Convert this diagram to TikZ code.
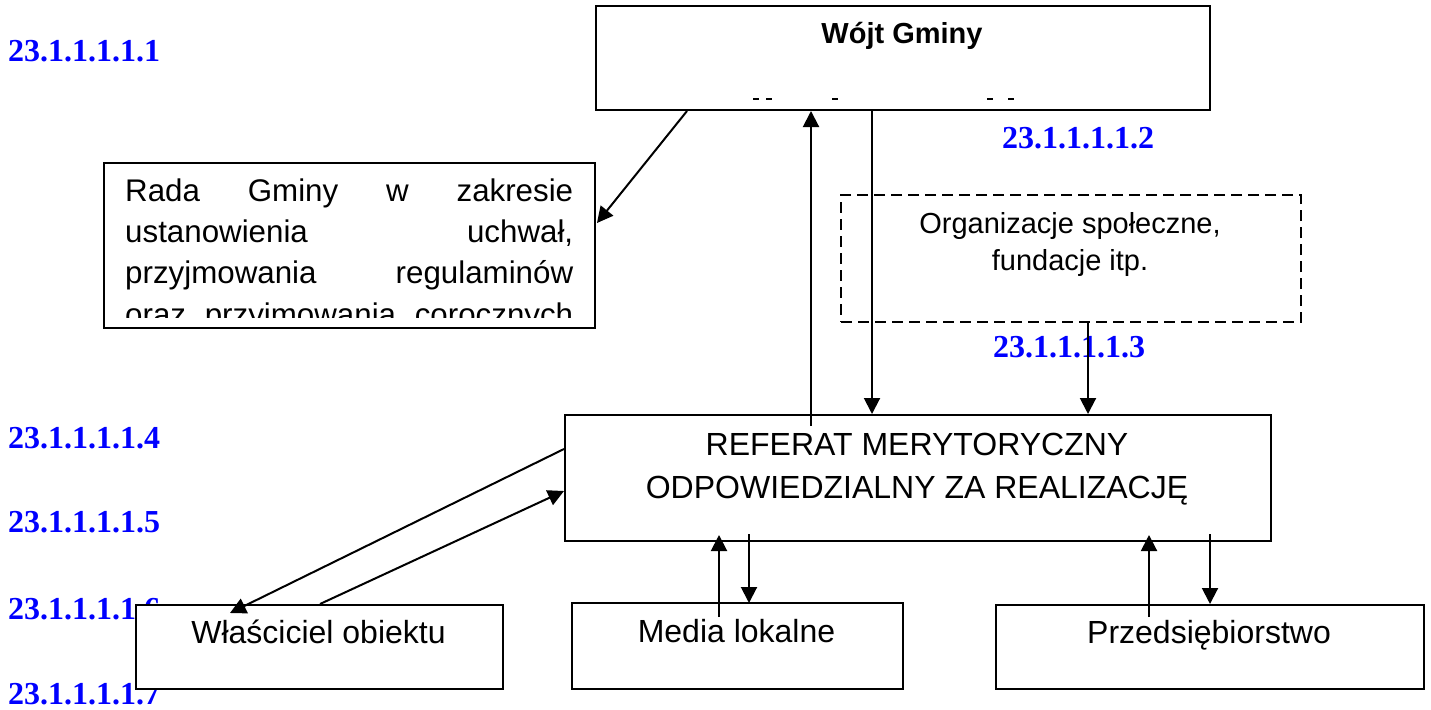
\documentclass[tikz,border=0pt]{standalone}
\usepackage{fontspec}
\setmainfont{Liberation Sans}
\newfontfamily\lserif{Liberation Serif}
\usetikzlibrary{arrows.meta,calc}
\definecolor{lblue}{RGB}{0,0,255}
\begin{document}
\begin{tikzpicture}[x=1pt,y=-1pt,
  box/.style={draw,line width=2pt,fill=white,inner sep=0pt,anchor=north west},
  dbox/.style={box,line width=2.3pt,dash pattern=on 11pt off 6pt},
  num/.style={font=\lserif\bfseries\fontsize{32}{32}\selectfont,text=lblue,anchor=base west,inner sep=0pt},
  txt/.style={font=\fontsize{32}{32}\selectfont,anchor=base,inner sep=0pt},
  stxt/.style={font=\fontsize{29}{29}\selectfont,anchor=base,inner sep=0pt},
  rtxt/.style={font=\fontsize{31.3}{31.3}\selectfont,anchor=base west,inner sep=0pt},
  arr/.style={line width=2pt,-{Triangle[length=16pt,width=16pt]}},
  tickmk/.style={line width=1.6pt}]
\useasboundingbox (0,0) rectangle (1431,709);

% blue numbering labels
\node[num] (n1) at (8,62) {23.1.1.1.1.1};
\node[num] (n2) at (1002,148) {23.1.1.1.1.2};
\node[num] (n3) at (993,357) {23.1.1.1.1.3};
\node[num] (n4) at (8,448) {23.1.1.1.1.4};
\node[num] (n5) at (8,532) {23.1.1.1.1.5};
\node[num] (n6) at (8,619) {23.1.1.1.1.6};
\node[num] (n7) at (8,704) {23.1.1.1.1.7};

% boxes
\node[box,minimum width=614pt,minimum height=104pt] (wojt) at (595,5) {};
\node[box,minimum width=491pt,minimum height=165pt] (rada) at (103,162) {};
\node[dbox,minimum width=460pt,minimum height=127pt] (org) at (840,194) {};
\node[box,minimum width=706pt,minimum height=126pt] (referat) at (564,414) {};
\node[box,minimum width=367pt,minimum height=84pt] (wlasc) at (135,604) {};
\node[box,minimum width=331pt,minimum height=86pt] (media) at (571,602) {};
\node[box,minimum width=428pt,minimum height=84pt] (przed) at (995,604) {};

% texts
\node[stxt,font=\bfseries\fontsize{29}{29}\selectfont] (wojtT) at (902,44) {Wójt Gminy};
\draw[tickmk] (753,99) -- (759,99) (766,99) -- (772,99) (832,99) -- (838,99)
            (987,99) -- (993,99) (1008,99) -- (1014,99);

\begin{scope}
\clip (103,162) rectangle (594,317);
\node[rtxt] (radaA) at (125,201) {\makebox[448pt][l]{Rada\hfill Gminy\hfill w\hfill zakresie}};
\node[rtxt] (radaB) at (125,242) {\makebox[448pt][l]{ustanowienia\hfill uchwał,}};
\node[rtxt] (radaC) at (125,283) {\makebox[448pt][l]{przyjmowania\hfill regulaminów}};
\node[rtxt] (radaD) at (125,325) {\makebox[448pt][l]{oraz\hfill przyjmowania\hfill corocznych}};
\end{scope}

\node[stxt] (orgA) at (1070,233) {Organizacje społeczne,};
\node[stxt] (orgB) at (1070,270) {fundacje itp.};

\node[txt] (refA) at (917,455) {REFERAT MERYTORYCZNY};
\node[txt] (refB) at (917,498) {ODPOWIEDZIALNY ZA REALIZACJĘ};

\node[txt] (wlascT) at (318.5,643) {Właściciel obiektu};
\node[txt] (mediaT) at (736.5,642) {Media lokalne};
\node[txt] (przedT) at (1209,643) {Przedsiębiorstwo};

% connectors
\draw[arr] ($(wojt.south west)+(92,0)$) -- ($(rada.north east)+(1,61)$);
\draw[arr] ($(referat.north west)+(247,12)$) -- ($(wojt.south west)+(216,0)$);
\draw[arr] ($(wojt.south west)+(277,0)$) -- ($(referat.north west)+(308,0)$);
\draw[arr] ($(org.south west)+(248,0)$) -- ($(referat.north west)+(524,0)$);
\draw[arr] ($(referat.north west)+(0,35)$) -- ($(wlasc.north west)+(95,9)$);
\draw[arr] ($(wlasc.north west)+(185,0)$) -- ($(referat.north west)+(0,77)$);
\draw[arr] ($(media.north west)+(148,15)$) -- ($(referat.south west)+(155,-7)$);
\draw[arr] ($(referat.south west)+(185,-8)$) -- ($(media.north west)+(178,1)$);
\draw[arr] ($(przed.north west)+(154,13)$) -- ($(referat.south west)+(585,-7)$);
\draw[arr] ($(referat.south west)+(646,-8)$) -- ($(przed.north west)+(215,0)$);
\end{tikzpicture}
\end{document}
